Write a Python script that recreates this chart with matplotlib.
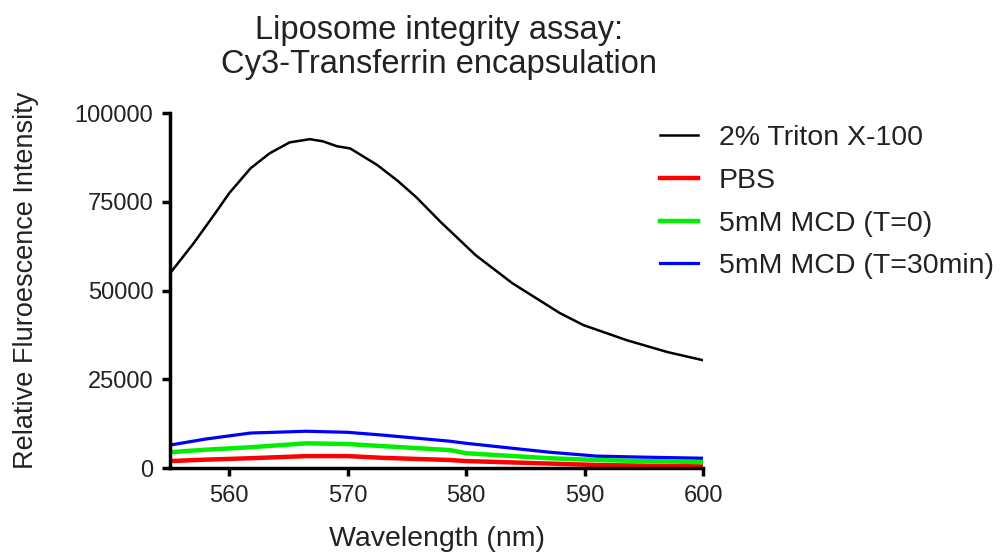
import matplotlib
matplotlib.use("Agg")
import matplotlib.pyplot as plt

plt.rcParams['font.family'] = ['Liberation Sans', 'DejaVu Sans']

# black curve (Triton)
wl_triton = [555, 557, 559, 560, 561.8, 563.4, 565.1, 566.8, 567.9, 569.1, 570.2,
             572.5, 574.2, 575.8, 577.8, 580.8, 583.9, 587.9, 589.9, 593.6, 597, 600]
triton = [54900, 63400, 72700, 77500, 84500, 88700, 91800, 92700, 92100, 90700, 90100,
          85400, 81000, 76300, 69500, 60000, 52100, 43700, 40300, 36000, 32700, 30400]

wl = [555, 558, 561.8, 566.5, 570, 573, 578.6, 580, 587, 591, 595, 600]
pbs = [2000, 2400, 2800, 3400, 3400, 2900, 2300, 2000, 1300, 900, 700, 500]
mcd0 = [4500, 5200, 5900, 7000, 6800, 6200, 5100, 4200, 2800, 2300, 2000, 1700]
mcd30 = [6500, 8200, 9900, 10400, 10100, 9300, 7600, 7000, 4500, 3400, 3100, 2800]

labels = ['2% Triton X-100', 'PBS', '5mM MCD (T=0)', '5mM MCD (T=30min)']
colors = ['black', '#ff0000', '#00ee00', '#0000ff']
txt = '#222222'

fig = plt.figure(figsize=(10.06, 5.58), dpi=100)
ax = fig.add_axes([0.169, 0.161, 0.530, 0.636])

ax.plot(wl_triton, triton, color=colors[0], lw=1.8, label=labels[0])
ax.plot(wl, pbs, color=colors[1], lw=3.2, label=labels[1])
ax.plot(wl, mcd0, color=colors[2], lw=3.2, label=labels[2])
ax.plot(wl, mcd30, color=colors[3], lw=2.3, label=labels[3])

ax.set_xlim(555, 600)
ax.set_ylim(0, 100000)
ax.set_xticks([560, 570, 580, 590, 600])
ax.set_yticks([0, 25000, 50000, 75000, 100000])
ax.set_yticklabels(['0', '25000', '50000', '75000', '100000'])

for s in ['top', 'right']:
    ax.spines[s].set_visible(False)
for s in ['left', 'bottom']:
    ax.spines[s].set_linewidth(2.5)
ax.tick_params(width=2.5, length=6, pad=6, labelsize=17, colors='black', labelcolor=txt)

ax.set_xlabel('Wavelength (nm)', fontsize=20.5, color=txt)
ax.xaxis.set_label_coords(0.5, -0.162)
ax.set_ylabel('Relative Fluroescence Intensity', fontsize=19.5, color=txt)
ax.yaxis.set_label_coords(-0.245, 0.53)

fig.text(0.436, 0.915, 'Liposome integrity assay:\nCy3-Transferrin encapsulation',
         fontsize=23.5, color=txt, ha='center', va='center', linespacing=1.15)

leg = ax.legend(loc='upper left', bbox_to_anchor=(0.656, 0.776), bbox_transform=fig.transFigure,
                frameon=False, fontsize=20.5, handlelength=1.35, labelspacing=0.59,
                handletextpad=0.72, borderpad=0, borderaxespad=0)
for t in leg.get_texts():
    t.set_color(txt)

fig.savefig('out.png', dpi=100)
